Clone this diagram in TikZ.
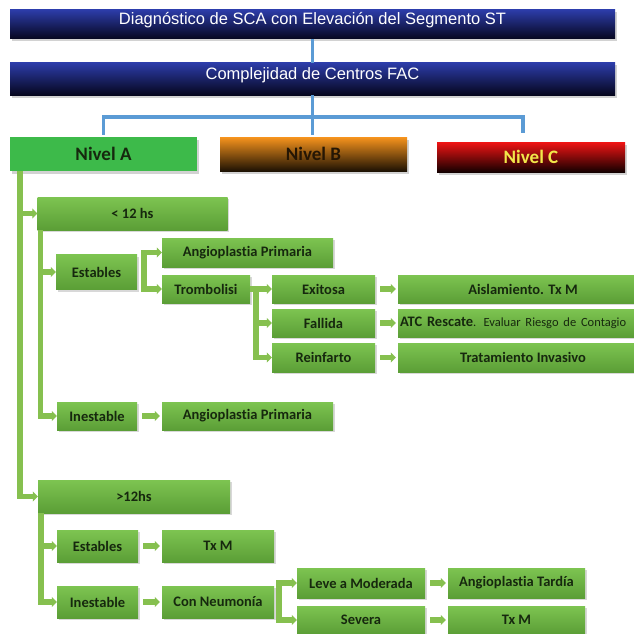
\documentclass[tikz,border=0pt]{standalone}
\usepackage{fontspec}
\setmainfont{Carlito}[Ligatures=NoCommon]
\newfontfamily\barfont{Liberation Sans}
\usetikzlibrary{arrows.meta,shadows}
\definecolor{barblue}{HTML}{2C3CA8}
\definecolor{bardark}{HTML}{06061E}
\definecolor{linkblue}{HTML}{5B9BD5}
\definecolor{boxtop}{HTML}{7DC451}
\definecolor{boxbot}{HTML}{5B9E36}
\definecolor{boxtext}{HTML}{16280E}
\definecolor{lgreen}{HTML}{86C04F}
\definecolor{nivgreen}{HTML}{3DBA4A}
\definecolor{nivorange}{HTML}{F7941D}
\definecolor{nivred}{HTML}{F01414}
\definecolor{nivyellow}{HTML}{F2E84A}
\begin{document}
\begin{tikzpicture}[x=1pt,y=-1pt,
    topbar/.style={top color=barblue,middle color=barblue!92!black,bottom color=bardark,
      minimum width=605pt,inner sep=0pt,text=white,text height=10pt,text depth=9pt,
      font=\barfont\fontsize{16.5}{18}\selectfont,
      drop shadow={shadow xshift=1.5pt,shadow yshift=-2.5pt,opacity=.35}},
    nivbox/.style={minimum width=187pt,minimum height=34pt,inner sep=0pt,
      font=\bfseries\fontsize{19}{21}\selectfont,
      drop shadow={shadow xshift=1.5pt,shadow yshift=-2.5pt,opacity=.35}},
    box/.style={top color=boxtop,bottom color=boxbot,inner sep=0pt,text=boxtext,
      minimum height=28pt,font=\bfseries\fontsize{14.5}{16}\selectfont,
      drop shadow={shadow xshift=1.5pt,shadow yshift=-2pt,opacity=.3}},
    bconn/.style={draw=linkblue,line width=3.5pt},
    gconn/.style={draw=lgreen,line width=5.5pt,-{Triangle[length=5pt,width=10pt]}},
    sarrow/.style={gconn,shorten <=5pt,shorten >=2pt}]
  \useasboundingbox (0,0) rectangle (634,634);
  \fill[white] (0,0) rectangle (634,634);
  %% header bars
  \node[topbar,minimum height=29pt] (diag) at (312.5,24.5) {Diagnóstico de SCA con Elevación del Segmento ST};
  \node[topbar,minimum height=32pt] (compl) at (312.5,79) {Complejidad de Centros FAC};
  %% levels
  \node[nivbox,fill=nivgreen,text=boxtext] (nivA) at (103.5,154) {Nivel A};
  \node[nivbox,top color=nivorange,middle color=nivorange!92!black,bottom color=black!88!nivorange,text=black!85!nivorange] (nivB) at (313.5,154) {Nivel B};
  \node[nivbox,minimum width=188pt,minimum height=30pt,top color=nivred,middle color=nivred!88!black,bottom color=black!92!red,text=nivyellow] (nivC) at (531,157) {Nivel C};
  \draw[bconn] (diag) -- (compl);
  \draw[bconn] (compl.south) -- ++(0,22) coordinate (hub);
  \draw[bconn,shorten >=2pt] (hub) -| (nivA.north);
  \draw[bconn,shorten >=2pt] (hub) -| (nivB.north -| hub);
  \draw[bconn,shorten >=9pt] (hub) -| ([xshift=-8pt]nivC.north);
  %% < 12 hs
  \node[box,minimum width=190pt,minimum height=33pt] (lt12) at (132.5,213.5) {< 12 hs};
  \node[box,minimum width=81pt,minimum height=35pt] (estA) at (96.5,272) {Estables};
  \node[box,minimum width=171pt,minimum height=29pt] (angA) at (247.5,252.5) {Angioplastia Primaria};
  \node[box,minimum width=88pt] (trom) at (206,289) {Trombolisi};
  \node[box,minimum width=103pt] (exi) at (323.5,289) {Exitosa};
  \node[box,minimum width=103pt] (fal) at (323.5,323) {Fallida};
  \node[box,minimum width=103pt,minimum height=29pt] (rei) at (323.5,357.5) {Reinfarto};
  \node[box,minimum width=250pt] (ais) at (523,289) {Aislamiento. Tx M};
  \node[box,minimum width=250pt,text width=248pt,align=left] (atc) at (523,323)
    {\hspace*{1pt}ATC Rescate{\mdseries\fontsize{12.5}{14}\selectfont. Evaluar Riesgo de Contagio}};
  \node[box,minimum width=250pt,minimum height=29pt] (tra) at (523,357.5) {Tratamiento Invasivo};
  \node[box,minimum width=80pt] (ines1) at (97,416) {Inestable};
  \node[box,minimum width=171pt] (angB) at (247.5,416) {Angioplastia Primaria};
  %% > 12 hs
  \node[box,minimum width=192pt,minimum height=33pt] (gt12) at (134,496.5) {>12hs};
  \node[box,minimum width=81pt,minimum height=32pt] (est2) at (97.5,546) {Estables};
  \node[box,minimum width=112pt,minimum height=32pt] (txm1) at (218,546) {Tx M};
  \node[box,minimum width=81pt,minimum height=32pt] (ines2) at (97.5,602) {Inestable};
  \node[box,minimum width=112pt,minimum height=32pt] (neu) at (218,602) {Con Neumonía};
  \node[box,minimum width=128pt,minimum height=30pt] (leve) at (361,583) {Leve a Moderada};
  \node[box,minimum width=137pt,minimum height=30pt] (ang3) at (516.5,583) {Angioplastia Tardía};
  \node[box,minimum width=128pt,minimum height=28pt] (sev) at (361,620) {Severa};
  \node[box,minimum width=137pt,minimum height=28pt] (txm2) at (516.5,620) {Tx M};
  %% green trunks and brackets
  \draw[gconn] (nivA.south west) ++(10,0) |- (lt12.west);
  \draw[gconn] (nivA.south west) ++(10,0) |- (gt12.west);
  \draw[gconn] (lt12.south west) ++(3,0) |- (estA.west);
  \draw[gconn] (lt12.south west) ++(3,0) |- (ines1.west);
  \draw[gconn] (estA.east) ++(7,0) |- (angA.west);
  \draw[gconn] (estA.east) ++(7,0) |- (trom.west);
  \draw[gconn] (trom.east) -- (exi.west);
  \draw[gconn] (trom.east) ++(6,0) |- (fal.west);
  \draw[gconn] (trom.east) ++(6,0) |- (rei.west);
  \draw[gconn] (gt12.south west) ++(3,0) |- (est2.west);
  \draw[gconn] (gt12.south west) ++(3,0) |- (ines2.west);
  \draw[gconn] (neu.east) ++(5,0) |- (leve.west);
  \draw[gconn] (neu.east) ++(5,0) |- (sev.west);
  %% short arrows
  \draw[sarrow] (exi) -- (ais);
  \draw[sarrow] (fal) -- (atc);
  \draw[sarrow] (rei) -- (tra);
  \draw[sarrow] (ines1) -- (angB);
  \draw[sarrow] (est2) -- (txm1);
  \draw[sarrow] (ines2) -- (neu);
  \draw[sarrow] (leve) -- (ang3);
  \draw[sarrow] (sev) -- (txm2);
\end{tikzpicture}
\end{document}
